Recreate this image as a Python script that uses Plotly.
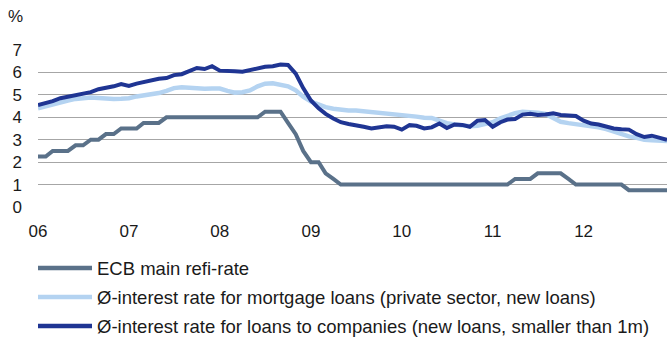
import pandas as pd
import plotly.graph_objects as go

# monthly, Jan 2006 - Dec 2012
months = pd.date_range("2006-01-01", "2012-12-01", freq="MS")

ecb_refi = [
    2.25, 2.25, 2.50, 2.50, 2.50, 2.75, 2.75, 3.00, 3.00, 3.25, 3.25, 3.50,
    3.50, 3.50, 3.75, 3.75, 3.75, 4.00, 4.00, 4.00, 4.00, 4.00, 4.00, 4.00,
    4.00, 4.00, 4.00, 4.00, 4.00, 4.00, 4.25, 4.25, 4.25, 3.75, 3.25, 2.50,
    2.00, 2.00, 1.50, 1.25, 1.00, 1.00, 1.00, 1.00, 1.00, 1.00, 1.00, 1.00,
    1.00, 1.00, 1.00, 1.00, 1.00, 1.00, 1.00, 1.00, 1.00, 1.00, 1.00, 1.00,
    1.00, 1.00, 1.00, 1.25, 1.25, 1.25, 1.50, 1.50, 1.50, 1.50, 1.25, 1.00,
    1.00, 1.00, 1.00, 1.00, 1.00, 1.00, 0.75, 0.75, 0.75, 0.75, 0.75, 0.75,
]

mortgage = [
    4.40, 4.50, 4.58, 4.68, 4.75, 4.82, 4.86, 4.88, 4.86, 4.82, 4.82, 4.83,
    4.85, 4.93, 4.98, 5.02, 5.08, 5.18, 5.30, 5.34, 5.30, 5.28, 5.27, 5.28,
    5.28, 5.18, 5.10, 5.12, 5.20, 5.38, 5.50, 5.52, 5.45, 5.38, 5.20, 4.92,
    4.70, 4.55, 4.45, 4.38, 4.32, 4.30, 4.30, 4.27, 4.20, 4.17, 4.14, 4.11,
    4.08, 4.06, 4.03, 3.98, 3.97, 3.85, 3.74, 3.68, 3.65, 3.60, 3.62, 3.68,
    3.78, 3.95, 4.08, 4.18, 4.25, 4.25, 4.20, 4.15, 4.00, 3.80, 3.74, 3.70,
    3.66, 3.62, 3.55, 3.47, 3.35, 3.25, 3.15, 3.08, 3.00, 2.98, 2.96, 2.94,
]

companies = [
    4.55, 4.62, 4.72, 4.85, 4.92, 5.00, 5.08, 5.12, 5.25, 5.30, 5.38, 5.48,
    5.40, 5.50, 5.58, 5.65, 5.72, 5.75, 5.88, 5.92, 6.05, 6.20, 6.15, 6.28,
    6.08, 6.08, 6.05, 6.03, 6.10, 6.20, 6.25, 6.28, 6.35, 6.33, 5.95, 5.30,
    4.75, 4.40, 4.15, 3.95, 3.78, 3.70, 3.65, 3.58, 3.50, 3.55, 3.60, 3.58,
    3.45, 3.65, 3.62, 3.50, 3.55, 3.72, 3.52, 3.68, 3.66, 3.58, 3.85, 3.88,
    3.58, 3.78, 3.90, 3.92, 4.12, 4.16, 4.10, 4.12, 4.18, 4.10, 4.06, 4.06,
    3.85, 3.72, 3.68, 3.60, 3.50, 3.47, 3.45, 3.25, 3.12, 3.18, 3.10, 3.00,
]

names = [
    "ECB main refi-rate",
    "Ø-interest rate for mortgage loans (private sector, new loans)",
    "Ø-interest rate for loans to companies (new loans, smaller than 1m)",
]
colors = ["#5a7189", "#b4d3f1", "#1f3593"]
widths = [4, 4.5, 4]
year_ticks = pd.date_range("2006-01-01", "2012-01-01", freq="YS")

W, H = 670, 338
L, R, T, B = 38, 3, 50, 131
pw, ph = W - L - R, H - T - B

fig = go.Figure()
for i, vals in enumerate([ecb_refi, mortgage, companies]):
    fig.add_trace(go.Scatter(
        x=months, y=vals, mode="lines", name=names[i], showlegend=False,
        line=dict(color=colors[i], width=widths[i]),
    ))

# legend drawn below the plot (long line samples like the original)
def px(x):
    return (x - L) / pw

def py(y):
    return (H - B - y) / ph

shapes, annots = [], []
for i, name in enumerate(names):
    yy = py(268 + 29 * i)
    shapes.append(dict(type="line", xref="paper", yref="paper",
                       x0=px(38), x1=px(92), y0=yy, y1=yy,
                       line=dict(color=colors[i], width=4.5)))
    annots.append(dict(text=name, xref="paper", yref="paper", x=px(95), y=yy,
                       xanchor="left", yanchor="middle", showarrow=False,
                       font=dict(size=18.5)))
annots.append(dict(text="%", xref="paper", yref="paper", x=px(15.5), y=py(16),
                   xanchor="center", yanchor="middle", showarrow=False,
                   font=dict(size=17)))

fig.update_layout(
    width=W, height=H,
    margin=dict(l=L, r=R, t=T, b=B, autoexpand=False),
    paper_bgcolor="white", plot_bgcolor="white",
    font=dict(family="Liberation Sans, Arial", size=17, color="#1a1a1a"),
    showlegend=False,
    xaxis=dict(
        range=[months[0], months[-1]], tickvals=year_ticks,
        ticktext=[d.strftime("%y") for d in year_ticks],
        showgrid=False, ticks="", ticklabelstandoff=12, zeroline=False,
        showline=False, tickangle=0,
    ),
    yaxis=dict(
        range=[0, 7], dtick=1, showgrid=True, gridcolor="#a6a6a6", gridwidth=1,
        ticks="", ticklabelstandoff=15, zeroline=False,
    ),
    shapes=shapes,
    annotations=annots,
)

fig.write_html("out.html", config={"displayModeBar": False},
               post_script="document.body.style.margin='0';")
